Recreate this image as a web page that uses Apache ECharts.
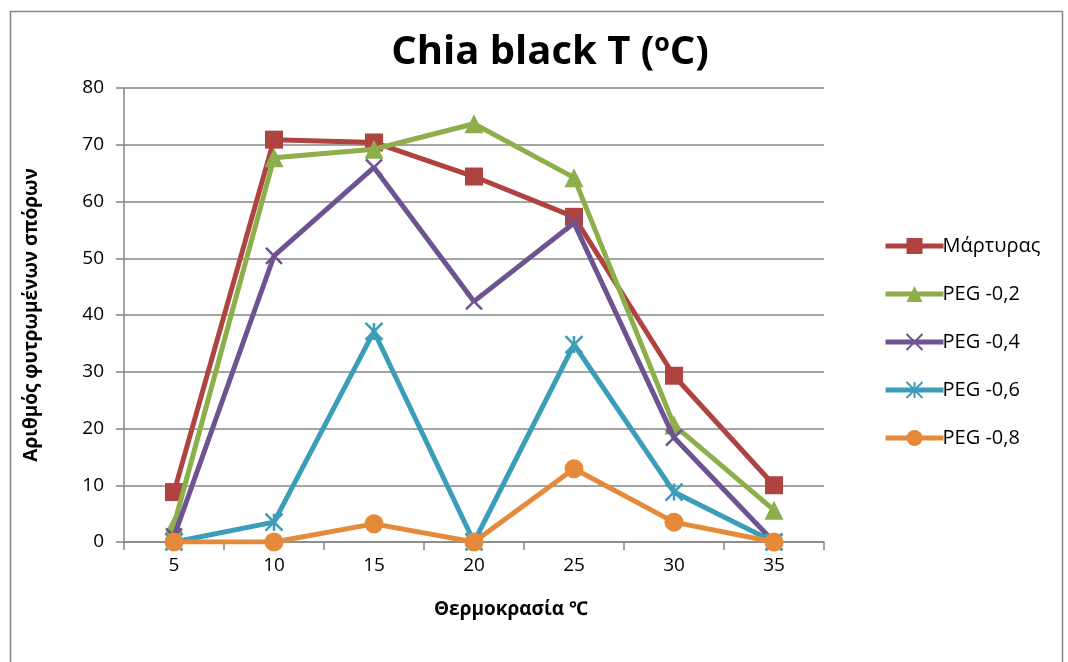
<!DOCTYPE html>
<html>
<head>
<meta charset="utf-8">
<script src="https://cdn.jsdelivr.net/npm/echarts@6/dist/echarts.min.js"></script>
<style>html,body{margin:0;padding:0;background:#fff}#c{width:1068px;height:662px}</style>
</head>
<body>
<div id="c"></div>
<script>
const categories = ['5', '10', '15', '20', '25', '30', '35'];
const seriesNames = ['Μάρτυρας', 'PEG -0,2', 'PEG -0,4', 'PEG -0,6', 'PEG -0,8'];
const martyras = [8.8, 70.9, 70.4, 64.4, 57.3, 29.3, 10.0];
const peg02 = [3.0, 67.7, 69.2, 73.7, 64.2, 20.6, 5.6];
const peg04 = [1.0, 50.4, 66.0, 42.4, 56.2, 18.4, 0];
const peg06 = [0, 3.5, 37.1, 0, 34.8, 8.8, 0];
const peg08 = [0, 0, 3.2, 0, 12.9, 3.5, 0];
const yTicks = [0, 10, 20, 30, 40, 50, 60, 70, 80];

const colors = ['#AE4340', '#8CAE4B', '#6E5392', '#3B9DB8', '#E5893B'];
const xPath = 'path://M0,0 L10,10 M10,0 L0,10';
const starPath = 'path://M0,0 L10,10 M10,0 L0,10 M5,0 L5,10';
const symbols = ['rect', 'triangle', xPath, starPath, 'circle'];
const symSizes = [18, 19, 16, 17, 19];
const data = [martyras, peg02, peg04, peg06, peg08];

const chart = echarts.init(document.getElementById('c'));
const FONT = '"Open Sans", "Noto Sans", sans-serif';

const series = seriesNames.map((n, i) => {
  const stroked = i === 2 || i === 3;
  return {
    name: n,
    type: 'line',
    data: data[i],
    symbol: symbols[i],
    symbolSize: symSizes[i],
    showAllSymbol: true,
    lineStyle: { color: colors[i], width: 5 },
    itemStyle: stroked
      ? { color: colors[i], borderColor: colors[i], borderWidth: 2.5 }
      : { color: colors[i], borderWidth: 0 },
    emphasis: { disabled: true },
    z: 2 + i
  };
});

chart.setOption({
  animation: false,
  backgroundColor: '#fff',
  title: {
    text: 'Chia black T ({s|o}C)',
    left: 545,
    top: 26,
    textAlign: 'center',
    textStyle: {
      fontFamily: FONT,
      fontWeight: 'bold',
      fontSize: 40,
      color: '#000',
      rich: { s: { fontSize: 25, fontWeight: 'bold', fontFamily: FONT, verticalAlign: 'top', padding: [0, 0, 18, 0], color: '#000' } }
    }
  },
  legend: {
    orient: 'vertical',
    left: 878,
    top: 231,
    itemGap: 28,
    itemWidth: 58,
    itemHeight: 20,
    data: seriesNames,
    lineStyle: { width: 5 },
    textStyle: { fontFamily: FONT, fontSize: 20, color: '#000', padding: [0, 0, 0, -6] }
  },
  grid: { left: 124, top: 88, width: 700, height: 454, containLabel: false },
  xAxis: {
    type: 'category',
    data: categories,
    boundaryGap: true,
    axisLine: { lineStyle: { color: '#868686', width: 1.5 } },
    axisTick: { show: true, length: 8, lineStyle: { color: '#868686', width: 1.5 } },
    axisLabel: { fontFamily: FONT, fontSize: 19, color: '#000', margin: 14 },
    splitLine: { show: false }
  },
  yAxis: {
    type: 'value',
    min: 0,
    max: 80,
    interval: 10,
    axisLine: { show: true, lineStyle: { color: '#868686', width: 1.5 } },
    axisTick: { show: true, length: 8, lineStyle: { color: '#868686', width: 1.5 } },
    axisLabel: { fontFamily: FONT, fontSize: 19, color: '#000', margin: 20,
      formatter: v => yTicks.includes(v) ? String(v) : '' },
    splitLine: { show: true, lineStyle: { color: '#868686', width: 1.5 } }
  },
  series: series,
  graphic: [
    { type: 'rect', shape: { x: 10.5, y: 11.5, width: 1052, height: 660 }, style: { fill: 'none', stroke: '#868686', lineWidth: 1.5 }, silent: true },
    { type: 'text', left: 434, top: 600, style: { text: 'Θερμοκρασία ℃', font: 'bold 19px ' + FONT, fill: '#000' } },
    { type: 'text', x: 32, y: 315, rotation: Math.PI / 2, style: { text: 'Αριθμός φυτρωμένων σπόρων', font: 'bold 19px ' + FONT, fill: '#000', align: 'center', verticalAlign: 'middle' } }
  ]
});
</script>
</body>
</html>
